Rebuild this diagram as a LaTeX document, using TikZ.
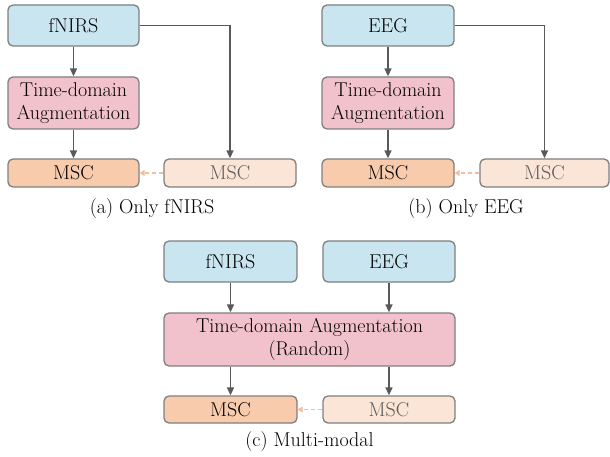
\documentclass[tikz,border=0pt]{standalone}
\usetikzlibrary{arrows.meta}

\definecolor{srcblue}{HTML}{C9E5EF}
\definecolor{augpink}{HTML}{F2C2CC}
\definecolor{mscorange}{HTML}{F8CBAD}
\definecolor{msclightfill}{HTML}{FBE5D6}
\definecolor{boxgray}{HTML}{7F7F7F}
\definecolor{arrowgray}{HTML}{595959}
\definecolor{mscgray}{HTML}{5A5A5A}
\definecolor{dashpeach}{HTML}{F2BE9B}

\tikzset{
  box/.style={draw=boxgray, line width=1.3pt, rounded corners=5pt, minimum width=131pt,
    inner sep=0pt, align=center, font=\fontsize{20}{23}\selectfont},
  srcbox/.style={box, fill=srcblue, minimum height=41pt},
  augbox/.style={box, fill=augpink, minimum height=52pt},
  mscbox/.style={box, fill=mscorange, minimum height=28pt},
  msclight/.style={box, fill=msclightfill, minimum height=28pt, text=mscgray},
  flow/.style={-{Triangle[length=8pt,width=7pt]}, line width=1.6pt, draw=arrowgray},
  link/.style={-{Triangle[length=5pt,width=6pt]}, dash pattern=on 4pt off 3pt, line width=1.4pt, draw=dashpeach},
  captext/.style={font=\fontsize{20}{23}\selectfont}
}

\begin{document}
\begin{tikzpicture}[x=1pt,y=-1pt]
  %枠
  \useasboundingbox (0,0) rectangle (610,457);

  %(a)
  \node[srcbox] (asrc) at (73.5,25.5) {fNIRS};
  \node[augbox] (aaug) at (73.5,103) {Time-domain\\Augmentation};
  \node[mscbox] (amsc) at (73.5,173) {MSC};
  \node[msclight, minimum width=132pt] (amscb) at (230,173) {MSC};
  \node[captext] (acap) at (152,209) {(a) Only fNIRS};

  \draw[flow] (asrc) -- (aaug);
  \draw[flow] (aaug) -- (amsc);
  \draw[flow] (asrc.east) -| (amscb.north);
  \draw[link] (amscb.west) -- (amsc.east);

  %(b)
  \node[srcbox, minimum width=132pt] (bsrc) at (388,25.5) {EEG};
  \node[augbox, minimum width=132pt] (baug) at (388,103) {Time-domain\\Augmentation};
  \node[mscbox, minimum width=132pt] (bmsc) at (388,173) {MSC};
  \node[msclight, minimum width=129pt] (bmscb) at (544.5,173) {MSC};
  \node[captext] (bcap) at (466,209) {(b) Only EEG};

  \draw[flow] (bsrc) -- (baug);
  \draw[flow] (baug) -- (bmsc);
  \draw[flow] (bsrc.east) -| (bmscb.north);
  \draw[link] (bmscb.west) -- (bmsc.east);

  %(c)
  \node[srcbox, minimum width=133pt] (csrca) at (230.5,261.5) {fNIRS};
  \node[srcbox, minimum width=132pt] (csrcb) at (389,261.5) {EEG};
  \node[augbox, minimum width=291pt, minimum height=53pt] (caug) at (309.5,339.5) {Time-domain Augmentation\\(Random)};
  \node[mscbox, minimum width=133pt, minimum height=27pt] (cmsc) at (230.5,409.5) {MSC};
  \node[msclight, minimum width=132pt, minimum height=27pt] (cmscb) at (389,409.5) {MSC};
  \node[captext] (ccap) at (309.5,442) {(c) Multi-modal};

  \draw[flow] (csrca) -- (csrca |- caug.north);
  \draw[flow] (csrcb) -- (csrcb |- caug.north);
  \draw[flow] (caug.south -| cmsc) -- (cmsc);
  \draw[flow] (caug.south -| cmscb) -- (cmscb);
  \draw[link] (cmscb.west) -- (cmsc.east);
\end{tikzpicture}
\end{document}
